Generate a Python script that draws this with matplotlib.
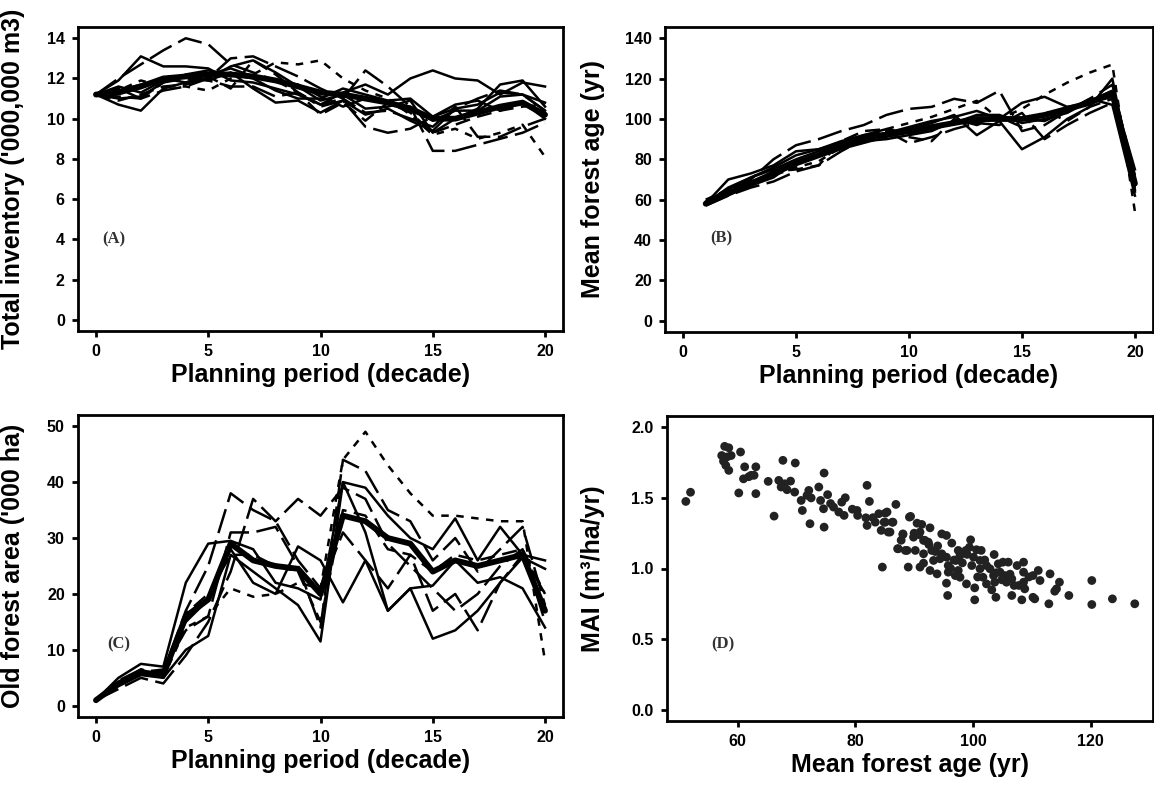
import matplotlib.pyplot as plt
import numpy as np

plt.rcParams['font.family'] = ['Liberation Sans', 'DejaVu Sans']

# ---------------- data ----------------
# (A) total inventory, periods 0..20
periods_a = list(range(0, 21))
inv_mean = [11.2, 11.3, 11.6, 12.0, 12.1, 12.2, 12.2, 12.1, 11.9, 11.6, 11.3,
            11.2, 11.0, 10.8, 10.5, 10.0, 10.0, 10.3, 10.6, 10.8, 10.2]
inv_runs = [
    [11.2, 11.9, 13.1, 12.6, 12.6, 12.5, 11.9, 11.8, 11.5, 11.2, 10.7, 11.3, 11.7, 11.2, 12.0, 12.4, 12.0, 11.9, 11.2, 11.8, 11.6],
    [11.2, 10.7, 10.4, 11.5, 11.8, 12.0, 12.6, 12.9, 12.3, 11.6, 10.9, 11.2, 10.5, 10.6, 10.9, 9.3, 10.0, 10.5, 11.7, 11.9, 10.6],
    [11.2, 12.0, 12.7, 13.4, 14.0, 13.7, 12.7, 12.3, 11.9, 11.3, 10.6, 10.9, 9.6, 9.3, 9.5, 10.1, 10.5, 11.0, 11.4, 11.2, 10.4],
    [11.2, 11.4, 11.9, 11.6, 11.6, 11.4, 12.0, 12.2, 12.8, 12.7, 12.9, 12.0, 11.4, 11.0, 10.2, 9.2, 9.5, 9.0, 9.3, 9.7, 8.1],
    [11.2, 11.1, 11.0, 11.8, 12.0, 11.9, 11.6, 11.6, 11.1, 11.3, 10.7, 11.0, 12.4, 11.6, 10.6, 8.4, 8.4, 8.7, 9.0, 9.3, 9.8],
    [11.2, 11.6, 11.3, 11.9, 12.1, 11.9, 12.3, 11.5, 10.8, 10.9, 10.3, 10.9, 10.2, 10.5, 9.9, 9.4, 10.5, 10.7, 11.3, 11.2, 10.8],
    [11.2, 10.9, 11.2, 11.6, 11.7, 12.1, 11.5, 12.9, 12.2, 11.3, 10.2, 10.8, 9.9, 10.8, 10.3, 9.3, 9.7, 10.1, 10.4, 10.6, 10.7],
    [11.2, 11.0, 11.1, 11.8, 12.2, 12.4, 12.2, 12.0, 11.4, 11.0, 11.0, 11.5, 11.2, 10.9, 11.0, 10.1, 10.7, 10.9, 10.4, 10.8, 10.0],
    [11.2, 11.5, 11.0, 11.4, 11.6, 12.0, 13.0, 13.1, 12.6, 12.1, 11.5, 11.0, 10.3, 10.4, 10.0, 9.6, 10.6, 9.1, 9.1, 9.6, 10.0],
    [11.2, 11.4, 11.7, 12.0, 11.8, 12.2, 12.5, 12.1, 11.9, 11.7, 11.1, 10.6, 11.0, 10.8, 10.6, 9.9, 10.4, 10.4, 11.1, 11.2, 10.4],
]

# (B) mean forest age, periods 1..20
periods_b = list(range(1, 21))
age_mean = [58, 63, 68, 73, 78, 82, 86, 89, 92, 94, 96, 98, 100, 100, 100, 102, 105, 108, 113, 68]
age_runs = [
    [58, 70, 73, 77, 84, 85, 88, 92, 93, 95, 98, 102, 92, 99, 85, 91, 100, 106, 120, 65],
    [59, 64, 70, 80, 87, 90, 94, 97, 102, 105, 106, 110, 108, 114, 94, 97, 104, 110, 117, 72],
    [60, 65, 69, 72, 76, 79, 86, 91, 95, 98, 101, 105, 109, 100, 105, 112, 118, 123, 127, 54],
    [58, 66, 71, 75, 80, 84, 87, 91, 93, 96, 99, 101, 104, 100, 108, 111, 106, 108, 111, 64],
    [57, 62, 66, 69, 74, 77, 84, 90, 94, 88, 91, 95, 98, 97, 103, 90, 97, 103, 108, 70],
    [58, 64, 68, 74, 75, 77, 89, 94, 95, 91, 89, 100, 97, 101, 96, 104, 99, 106, 110, 66],
    [59, 65, 71, 76, 82, 85, 89, 92, 95, 93, 95, 98, 102, 102, 98, 100, 103, 109, 114, 75],
    [58, 63, 67, 71, 79, 82, 86, 89, 90, 92, 94, 99, 98, 101, 100, 99, 104, 110, 107, 62],
]

# (C) old forest area, periods 0..20
periods_c = list(range(0, 21))
old_mean = [1, 4, 6, 5.5, 16, 19, 29, 26, 25, 24.5, 20, 34, 33, 30, 29, 24, 26, 25, 26, 27, 17]
old_runs = [
    [1, 5, 7.5, 7, 22, 29, 29.5, 28, 22, 21, 19, 40, 39, 34, 30, 28, 33.5, 26, 32, 27, 26],
    [1, 4, 6, 5, 14, 16, 21, 19.5, 20, 22, 21, 44, 49, 43, 38, 34, 34, 33.5, 33, 33, 8],
    [1, 4.5, 6.5, 6, 17, 25, 38, 35, 33, 26, 21, 31, 26, 21, 27, 17, 20, 13.5, 22, 27, 20],
    [1, 3.5, 5.5, 5, 10, 12.5, 27, 24, 21, 18, 11.5, 40, 31, 17, 21, 21.5, 26, 22, 23, 21, 14],
    [1, 4, 6, 5.5, 15, 19, 28, 22, 20, 28.5, 26, 18.5, 26, 17, 21, 12, 13.5, 17, 22, 26.5, 24.5],
    [1, 4, 6, 6.5, 13.5, 16, 31, 31, 32, 25, 14, 44, 42, 35, 33, 26, 30, 24, 28, 32, 18],
    [1, 3, 5, 4, 9, 15, 24, 37, 33, 37, 34, 39, 37, 29, 25, 21, 17, 20, 25, 28, 15],
    [1, 4, 6.5, 5, 16.5, 20, 27, 27, 25, 24, 15, 35, 34, 28, 27, 24, 27, 26, 27, 28, 20],
]

# (D) MAI vs mean forest age
mai_age = [51.2, 52.0, 57.8, 58.5, 57.3, 58.2, 58.0, 58.5, 60.5, 61.2, 63.1, 61.0, 61.9, 62.8,
           60.2, 63.1, 65.2, 66.2, 67.7, 69.8, 67.0, 67.4, 68.4, 69.0, 69.7, 74.7, 72.1, 72.3,
           70.8, 71.0, 71.8, 73.8, 74.1, 74.6, 74.7, 75.3, 76.3, 77.2, 77.7, 78.3, 78.1, 80.3,
           80.4, 82.0, 82.4, 81.8, 82.0, 83.4, 84.0, 84.9, 85.4, 86.3, 86.9, 84.4, 85.9, 84.6,
           87.2, 88.5, 89.2, 89.0, 88.1, 85.1, 86.4, 85.1, 85.6, 89.4, 90.5, 91.3, 92.7, 88.1,
           89.9, 91.0, 91.6, 92.4, 87.3, 88.8, 90.2, 91.6, 93.0, 94.7, 95.5, 96.4, 94.7, 93.3,
           94.4, 95.5, 91.0, 91.6, 92.7, 93.9, 95.8, 95.8, 97.5, 97.8, 97.1, 97.5, 97.8, 95.5,
           95.7, 98.8, 99.6, 98.9, 100.3, 100.3, 100.1, 100.6, 101.2, 101.4, 99.8, 101.2, 101.7,
           102.3, 103.6, 102.9, 103.5, 103.7, 102.3, 103.2, 103.9, 104.3, 105.1, 106.0, 104.6,
           105.4, 106.6, 105.7, 106.6, 107.5, 108.6, 108.6, 108.6, 108.8, 108.3, 110.2, 111.1,
           111.4, 110.2, 110.5, 113.1, 114.7, 114.2, 113.9, 112.9, 116.3, 120.2, 120.2, 123.7,
           127.5, 90.0, 91.8, 92.5, 96.8, 99.0, 104.0, 105.8, 107.0,
           57.6, 58.9, 62.3, 68.0, 72.5, 75.8, 79.5, 83.0, 87.8, 90.8, 93.6, 96.2, 98.2,
           100.8, 102.0, 104.9, 106.3, 107.8, 109.5, 94.0, 97.0, 99.4]
mai_val = [1.475, 1.54, 1.865, 1.855, 1.80, 1.79, 1.73, 1.695, 1.825, 1.72, 1.72, 1.635, 1.65, 1.66,
           1.535, 1.53, 1.617, 1.371, 1.766, 1.747, 1.624, 1.577, 1.558, 1.619, 1.541, 1.676, 1.553, 1.317,
           1.482, 1.411, 1.518, 1.577, 1.482, 1.423, 1.293, 1.523, 1.435, 1.40, 1.47, 1.501, 1.376, 1.411,
           1.376, 1.589, 1.475, 1.359, 1.305, 1.328, 1.388, 1.328, 1.40, 1.328, 1.454, 1.27, 1.258, 1.01,
           1.14, 1.128, 1.364, 1.01, 1.241, 1.392, 1.328, 1.328, 1.258, 1.369, 1.321, 1.312, 1.288, 1.245,
           1.222, 1.258, 1.199, 1.187, 1.14, 1.128, 1.128, 1.104, 1.128, 1.245, 1.234, 1.18, 1.104, 1.057,
           1.069, 1.08, 1.01, 1.038, 0.986, 0.962, 1.021, 0.974, 1.128, 1.092, 1.057, 0.986, 0.938, 0.896,
           0.809, 1.128, 1.203, 0.891, 0.863, 0.778, 1.08, 1.133, 1.057, 1.128, 1.021, 0.998, 0.938,
           1.021, 1.099, 0.998, 0.95, 0.903, 0.891, 0.849, 0.796, 1.033, 1.045, 1.045, 0.974,
           0.95, 0.927, 0.903, 0.809, 1.021, 1.045, 0.974, 0.903, 0.856, 0.778, 0.95, 0.986,
           0.915, 0.796, 0.785, 0.962, 0.903, 0.856, 0.839, 0.75, 0.809, 0.915, 0.745, 0.785,
           0.75, 1.25, 1.20, 1.17, 1.06, 1.10, 0.97, 0.92, 0.88,
           1.76, 1.80, 1.66, 1.60, 1.50, 1.46, 1.42, 1.36, 1.20, 1.24, 1.12, 1.00, 1.04,
           0.94, 1.06, 0.92, 0.96, 0.88, 0.94, 1.16, 0.95, 1.15]

# dash patterns for the individual runs (None = solid)
dashes_a = [None, None, (10, 3), (3, 3), (10, 3), None, (6, 3), None, (10, 3), None]
dashes_b = [None, (10, 3), (3, 3), None, (10, 3), (6, 3), None, None]
dashes_c = [None, (3, 3), (10, 3), None, None, (10, 3), (10, 3), (6, 3)]

FIG_W, FIG_H = 1154, 788
fig = plt.figure(figsize=(FIG_W / 100, FIG_H / 100), dpi=100)


def make_axes(left, top, right, bottom):
    return fig.add_axes([left / FIG_W, 1 - bottom / FIG_H,
                         (right - left) / FIG_W, (bottom - top) / FIG_H])


def style_axes(ax, xlabel, ylabel, ylab_x):
    for sp in ax.spines.values():
        sp.set_linewidth(2.0)
    ax.tick_params(direction='out', length=4.5, width=2.0, pad=5, labelsize=11.5)
    for lab in ax.get_xticklabels() + ax.get_yticklabels():
        lab.set_fontweight('bold')
    ax.set_xlabel(xlabel, fontsize=18, fontweight='bold', labelpad=3)
    ax.set_ylabel(ylabel, fontsize=18, fontweight='bold')
    ax.yaxis.set_label_coords(ylab_x, 0.5)


def draw_runs(ax, x, runs, mean, dash_list):
    for run, d in zip(runs, dash_list):
        if d is None:
            ax.plot(x, run, color='black', lw=1.8)
        else:
            ax.plot(x, run, color='black', lw=1.8, dashes=d, dash_capstyle='butt')
    ax.plot(x, mean, color='black', lw=4.2, solid_capstyle='round')


def panel_tag(ax, x, y, tag):
    ax.text(x, y, tag, family='Liberation Serif', fontweight='bold', fontsize=12,
            color='#333333', ha='center', va='center')


# (A)
ax1 = make_axes(78, 27, 563, 331)
draw_runs(ax1, periods_a, inv_runs, inv_mean, dashes_a)
ax1.set_xlim(-0.8, 20.8)
ax1.set_ylim(-0.56, 14.56)
ax1.set_xticks([0, 5, 10, 15, 20])
ax1.set_yticks(np.arange(0, 15, 2))
style_axes(ax1, 'Planning period (decade)', "Total inventory ('000,000 m3)", -0.11)
panel_tag(ax1, 0.8, 4.0, '(A)')

# (B)
ax2 = make_axes(665, 27, 1153, 332)
draw_runs(ax2, periods_b, age_runs, age_mean, dashes_b)
ax2.set_xlim(-0.8, 20.8)
ax2.set_ylim(-5.6, 145.6)
ax2.set_xticks([0, 5, 10, 15, 20])
ax2.set_yticks(np.arange(0, 141, 20))
style_axes(ax2, 'Planning period (decade)', 'Mean forest age (yr)', -0.123)
panel_tag(ax2, 1.7, 41, '(B)')

# (C)
ax3 = make_axes(78, 415, 563, 717)
draw_runs(ax3, periods_c, old_runs, old_mean, dashes_c)
ax3.set_xlim(-0.8, 20.8)
ax3.set_ylim(-2, 52)
ax3.set_xticks([0, 5, 10, 15, 20])
ax3.set_yticks(np.arange(0, 51, 10))
style_axes(ax3, 'Planning period (decade)', "Old forest area ('000 ha)", -0.11)
panel_tag(ax3, 1.0, 11, '(C)')

# (D)
ax4 = make_axes(667, 416, 1153, 721)
ax4.scatter(mai_age, mai_val, s=40, color='#222222', edgecolors='none')
ax4.set_xlim(48, 130.6)
ax4.set_ylim(-0.08, 2.08)
ax4.set_xticks([60, 80, 100, 120])
ax4.set_yticks([0.0, 0.5, 1.0, 1.5, 2.0])
ax4.set_yticklabels(['0.0', '0.5', '1.0', '1.5', '2.0'])
style_axes(ax4, 'Mean forest age (yr)', 'MAI (m³/ha/yr)', -0.128)
panel_tag(ax4, 57.5, 0.46, '(D)')

plt.savefig('out.png', dpi=100)
